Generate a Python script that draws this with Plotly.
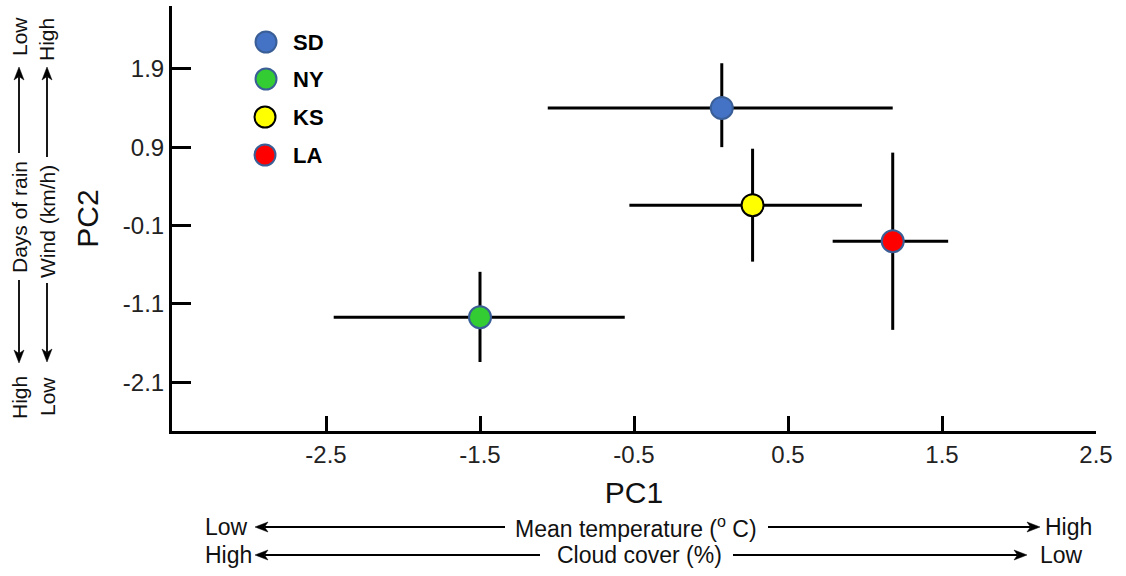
import math
import plotly.graph_objects as go

# ---------------- data ----------------
states = ["SD", "NY", "KS", "LA"]
pc1 = [0.07, -1.50, 0.27, 1.18]
pc2 = [1.40, -1.27, 0.16, -0.30]
pc1_err_minus = [1.13, 0.95, 0.80, 0.39]
pc1_err_plus = [1.11, 0.94, 0.71, 0.36]
pc2_err_plus = [0.57, 0.58, 0.72, 1.13]
pc2_err_minus = [0.50, 0.57, 0.72, 1.13]
fill_colors = ["#4472C4", "#33CC33", "#FFFF00", "#FF0000"]
edge_colors = ["#3A5E96", "#3A5E96", "#000000", "#3A5E96"]
x_ticks = [-2.5, -1.5, -0.5, 0.5, 1.5, 2.5]
y_ticks = [1.9, 0.9, -0.1, -1.1, -2.1]

# ---------------- layout constants ----------------
W, H = 1126, 576
L, R, T, B = 172, 30, 6, 145
PW, PH = W - L - R, H - T - B
FONT = "Liberation Sans, Arial, sans-serif"


def px_x(px):
    return (px - L) / PW


def px_y(py):
    return (H - B - py) / PH


annotations = []
shapes = []


def arrow(x_tail, y_tail, x_head, y_head, head_len=13, half_w=5, notch=3.5):
    dx, dy = x_head - x_tail, y_head - y_tail
    d = math.hypot(dx, dy)
    ux, uy = dx / d, dy / d
    nx, ny = -uy, ux
    bx, by = x_head - ux * head_len, y_head - uy * head_len
    shapes.append(dict(type="line", xref="paper", yref="paper",
                       x0=px_x(x_tail), y0=px_y(y_tail),
                       x1=px_x(bx + ux * notch), y1=px_y(by + uy * notch),
                       line=dict(color="black", width=1.8)))
    pts = [(x_head, y_head),
           (bx + nx * half_w, by + ny * half_w),
           (bx + ux * notch, by + uy * notch),
           (bx - nx * half_w, by - ny * half_w)]
    path = "M " + " L ".join(f"{px_x(px):.5f},{px_y(py):.5f}" for px, py in pts) + " Z"
    shapes.append(dict(type="path", xref="paper", yref="paper", path=path,
                       fillcolor="black", line=dict(color="black", width=0.5)))


fig = go.Figure()
fig.add_trace(go.Scatter(
    x=pc1, y=pc2, mode="markers", text=states, showlegend=False,
    marker=dict(size=22, color=fill_colors, line=dict(color=edge_colors, width=2)),
    error_x=dict(type="data", symmetric=False, array=pc1_err_plus,
                 arrayminus=pc1_err_minus, color="black", thickness=3, width=0),
    error_y=dict(type="data", symmetric=False, array=pc2_err_plus,
                 arrayminus=pc2_err_minus, color="black", thickness=3, width=0),
))

# custom legend
leg_centers = [(266, 42), (266, 79), (265, 117), (265, 155)]
for (cx, cy), name, fc, ec in zip(leg_centers, states, fill_colors, edge_colors):
    shapes.append(dict(type="circle", xref="paper", yref="paper",
                       xsizemode="pixel", ysizemode="pixel",
                       xanchor=px_x(cx), yanchor=px_y(cy),
                       x0=-10.5, x1=10.5, y0=-10.5, y1=10.5,
                       fillcolor=fc, line=dict(color=ec, width=2)))
    annotations.append(dict(x=px_x(291), y=px_y(cy), xref="paper", yref="paper",
                            text="<b>" + name + "</b>", showarrow=False,
                            xanchor="left", yanchor="middle",
                            font=dict(family=FONT, size=22, color="black")))

# bottom descriptive rows
bottom_font = dict(family=FONT, size=23, color="#111111")
rows = [
    (527, [("Low", 226), ("Mean temperature (<sup>o</sup> C)", 636), ("High", 1068)],
     [(505, 255), (768, 1040)]),
    (555, [("High", 228), ("Cloud cover (%)", 639), ("Low", 1061)],
     [(540, 255), (733, 1027)]),
]
for py, texts, arrows in rows:
    for t, cx in texts:
        annotations.append(dict(x=px_x(cx), y=px_y(py), xref="paper", yref="paper",
                                text=t, showarrow=False, xanchor="center",
                                yanchor="middle", font=bottom_font))
    for tail, head in arrows:
        arrow(tail, py, head, py)

# left descriptive columns
left_font = dict(family=FONT, size=21, color="#111111")
cols = [
    (19, [("High", 398), ("Days of rain", 217), ("Low", 37)], [(280, 363), (153, 67)]),
    (47, [("Low", 397), ("Wind (km/h)", 222), ("High", 40)], [(283, 362), (157, 67)]),
]
for px, texts, arrows in cols:
    for t, cy in texts:
        annotations.append(dict(x=px_x(px), y=px_y(cy), xref="paper", yref="paper",
                                text=t, showarrow=False, textangle=-90,
                                xanchor="center", yanchor="middle", font=left_font))
    for tail, head in arrows:
        arrow(px, tail, px, head)

fig.update_layout(
    width=W, height=H,
    margin=dict(l=L, r=R, t=T, b=B, pad=0),
    paper_bgcolor="white", plot_bgcolor="white",
    font=dict(family=FONT, color="#222222"),
    showlegend=False,
    annotations=annotations,
    shapes=shapes,
    xaxis=dict(range=[-3.5, 2.5], tickmode="array", tickvals=x_ticks,
               ticktext=[f"{v:.1f}" for v in x_ticks],
               showgrid=False, zeroline=False, showline=True, linecolor="black",
               linewidth=3, ticks="inside", ticklen=15, tickwidth=2.5,
               tickcolor="black", tickfont=dict(family=FONT, size=24, color="#222222"),
               title=dict(text="PC1", font=dict(family=FONT, size=30, color="#111111"),
                          standoff=16)),
    yaxis=dict(range=[-2.72, 2.70], tickmode="array", tickvals=y_ticks,
               ticktext=[f"{v:.1f}" for v in y_ticks],
               showgrid=False, zeroline=False, showline=True, linecolor="black",
               linewidth=3, ticks="inside", ticklen=19, tickwidth=2.5,
               tickcolor="black", tickfont=dict(family=FONT, size=24, color="#222222"),
               title=dict(text="PC2", font=dict(family=FONT, size=30, color="#111111"),
                          standoff=16)),
)

fig.write_html("out.html")
